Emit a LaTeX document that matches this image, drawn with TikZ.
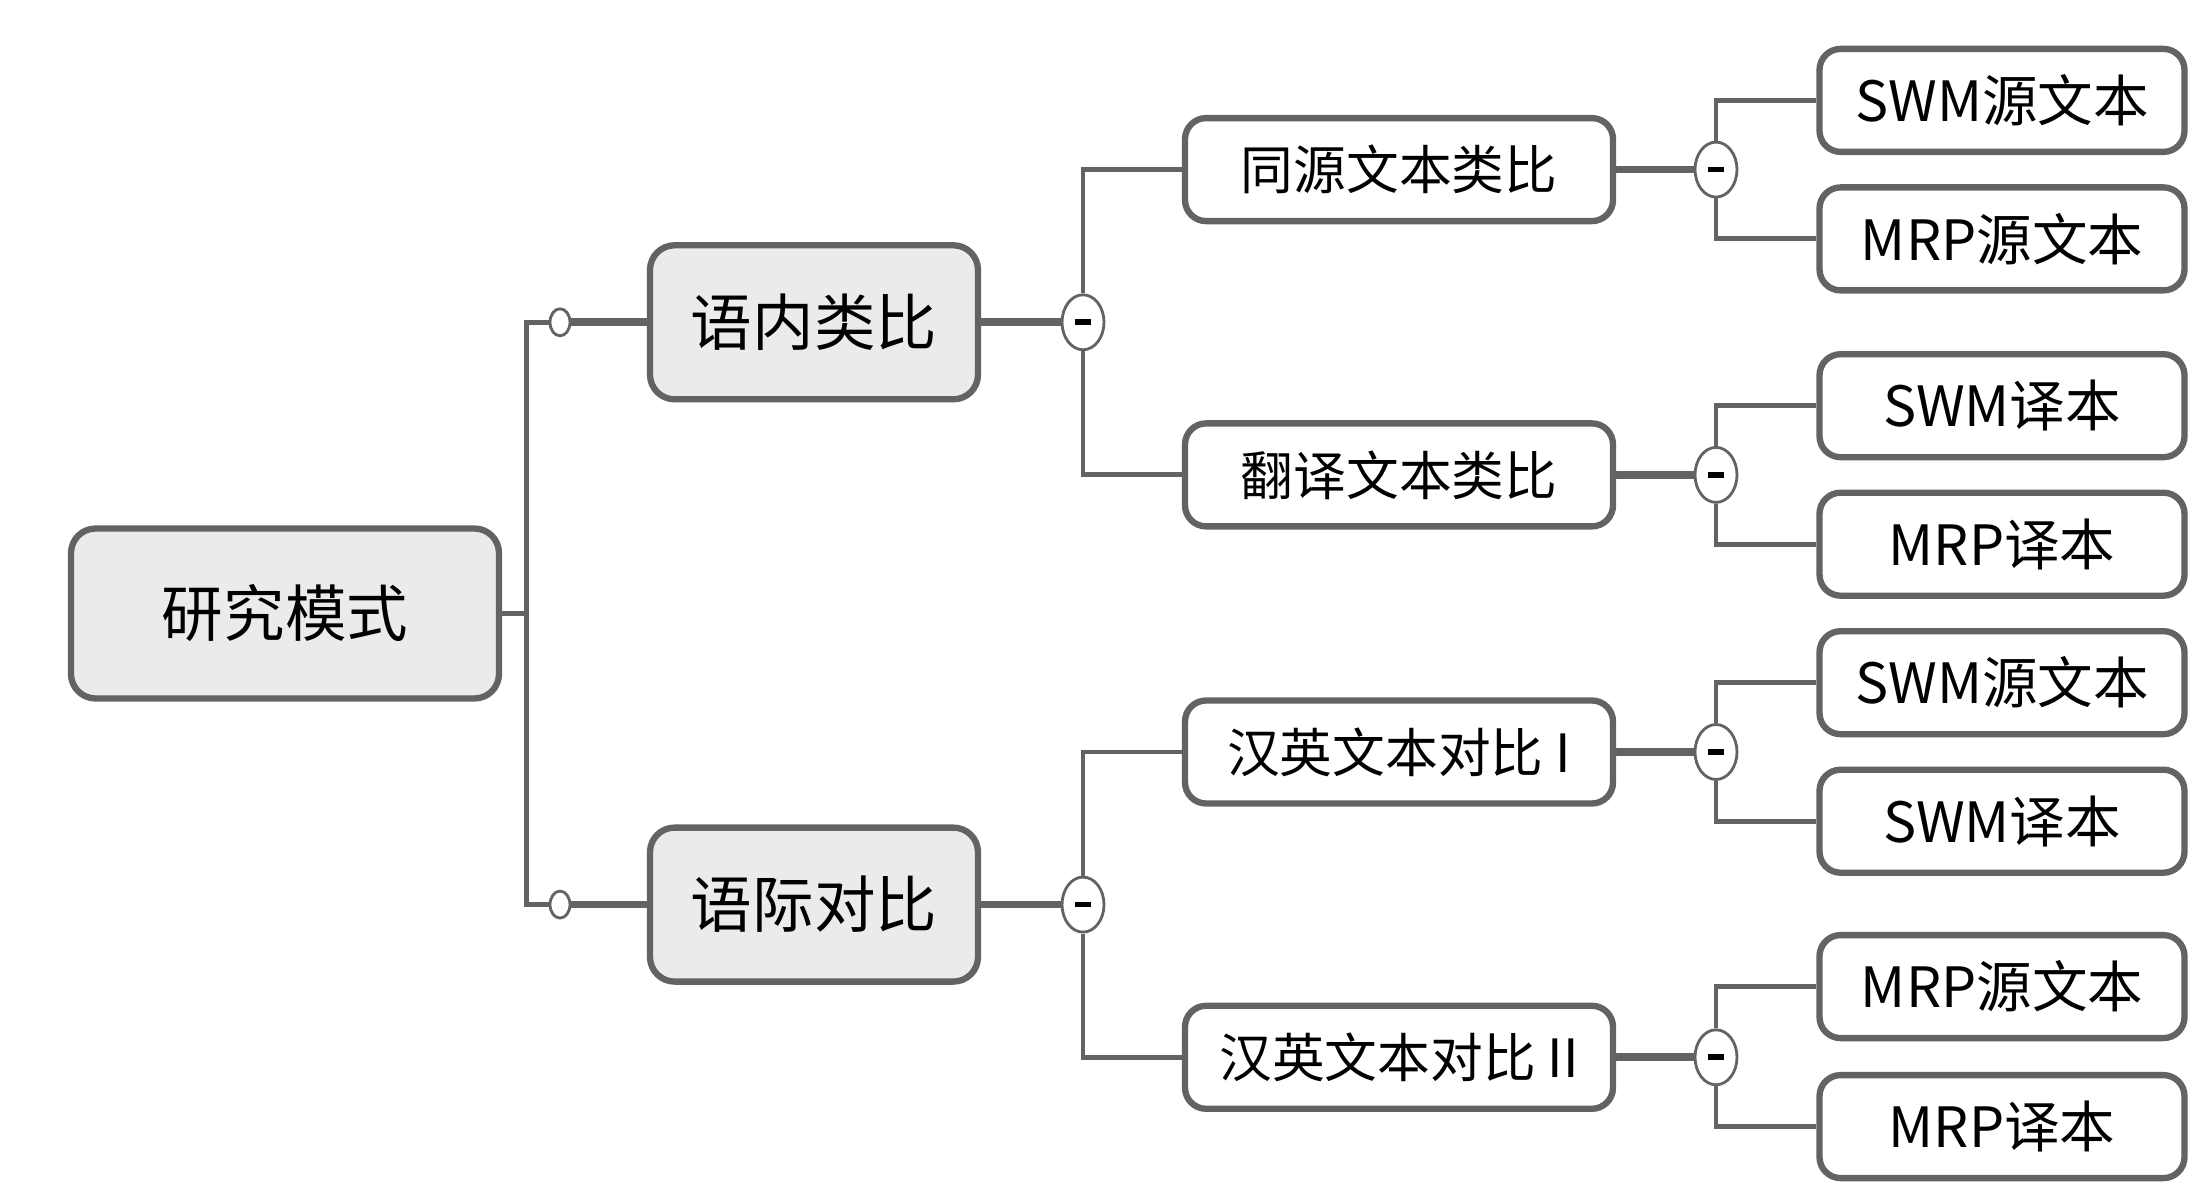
\documentclass[tikz,border=0pt]{standalone}
\usepackage{fontspec}
\setmainfont{Noto Sans CJK SC}
\definecolor{linegray}{HTML}{636363}
\definecolor{boxgray}{HTML}{EBEBEB}
\tikzset{every picture/.style={line width=1.4pt}}
\tikzset{topic box/.style={draw=linegray, line width=1.8pt, rounded corners=7pt, fill=boxgray, inner sep=0pt, minimum height=1.54cm, font=\fontsize{17.5}{20}\selectfont}}
\tikzset{sub box/.style={draw=linegray, line width=1.8pt, rounded corners=6pt, fill=white, inner sep=0pt, minimum height=1.03cm, font=\fontsize{15}{17}\selectfont}}
\tikzset{leaf box/.style={sub box, minimum width=3.65cm, font=\fontsize{15.8}{18}\selectfont}}
\tikzset{link/.style={draw=linegray, line width=1.4pt}}
\tikzset{trunk/.style={draw=linegray, line width=2.2pt}}
\tikzset{open dot/.style={ellipse, draw=linegray, line width=0.8pt, fill=white, minimum width=0.2cm, minimum height=0.27cm, inner sep=0pt}}
\tikzset{fold/.style={ellipse, draw=linegray, line width=0.8pt, fill=white, minimum width=0.42cm, minimum height=0.55cm, inner sep=0pt,
  path picture={\draw[black, line width=1.6pt] ([xshift=-2.4pt]path picture bounding box.center) -- ([xshift=2.4pt]path picture bounding box.center);}}}
\usetikzlibrary{shapes.geometric}

\begin{document}
\begin{tikzpicture}
    \useasboundingbox (0,0) rectangle (22.05,11.89);
    % root and first level
    \node[topic box, minimum width=4.28cm, minimum height=1.7cm] (mode) at (2.85,5.755) {研究模式};
    \node[topic box, minimum width=3.28cm] (intra) at (8.14,8.667) {语内类比};
    \node[topic box, minimum width=3.28cm] (inter) at (8.14,2.844) {语际对比};
    \node[open dot] (dotA) at (5.60,8.667) {};
    \node[open dot] (dotB) at (5.60,2.844) {};
    \draw[link] (mode.east) -- ++(0.24,0) coordinate (bus) |- (dotA.west);
    \draw[link] (bus) |- (dotB.west);
    \draw[trunk] (dotA) -- (intra);
    \draw[trunk] (dotB) -- (inter);
    % second level
    \node[fold] (foldA) at (10.83,8.667) {};
    \node[fold] (foldB) at (10.83,2.844) {};
    \draw[trunk] (intra) -- (foldA);
    \draw[trunk] (inter) -- (foldB);
    \node[sub box, minimum width=4.28cm] (same) at (13.99,10.194) {同源文本类比};
    \node[sub box, minimum width=4.28cm] (trans) at (13.99,7.141) {翻译文本类比};
    \node[sub box, minimum width=4.28cm] (cmpI) at (13.99,4.370) {汉英文本对比 I};
    \node[sub box, minimum width=4.28cm] (cmpII) at (13.99,1.317) {汉英文本对比 II};
    \draw[link] (foldA) |- (same.west);
    \draw[link] (foldA) |- (trans.west);
    \draw[link] (foldB) |- (cmpI.west);
    \draw[link] (foldB) |- (cmpII.west);
    % leaves
    \node[fold] (foldC) at (17.16,10.194) {};
    \node[fold] (foldD) at (17.16,7.141) {};
    \node[fold] (foldE) at (17.16,4.370) {};
    \node[fold] (foldF) at (17.16,1.317) {};
    \draw[trunk] (same) -- (foldC);
    \draw[trunk] (trans) -- (foldD);
    \draw[trunk] (cmpI) -- (foldE);
    \draw[trunk] (cmpII) -- (foldF);
    \node[leaf box] (leafA) at (20.02,10.886) {SWM源文本};
    \node[leaf box] (leafB) at (20.02,9.501) {MRP源文本};
    \node[leaf box] (leafC) at (20.02,7.833) {SWM译本};
    \node[leaf box] (leafD) at (20.02,6.448) {MRP译本};
    \node[leaf box] (leafE) at (20.02,5.063) {SWM源文本};
    \node[leaf box] (leafF) at (20.02,3.678) {SWM译本};
    \node[leaf box] (leafG) at (20.02,2.024) {MRP源文本};
    \node[leaf box] (leafH) at (20.02,0.624) {MRP译本};
    \draw[link] (foldC) |- (leafA.west);
    \draw[link] (foldC) |- (leafB.west);
    \draw[link] (foldD) |- (leafC.west);
    \draw[link] (foldD) |- (leafD.west);
    \draw[link] (foldE) |- (leafE.west);
    \draw[link] (foldE) |- (leafF.west);
    \draw[link] (foldF) |- (leafG.west);
    \draw[link] (foldF) |- (leafH.west);
\end{tikzpicture}
\end{document}
